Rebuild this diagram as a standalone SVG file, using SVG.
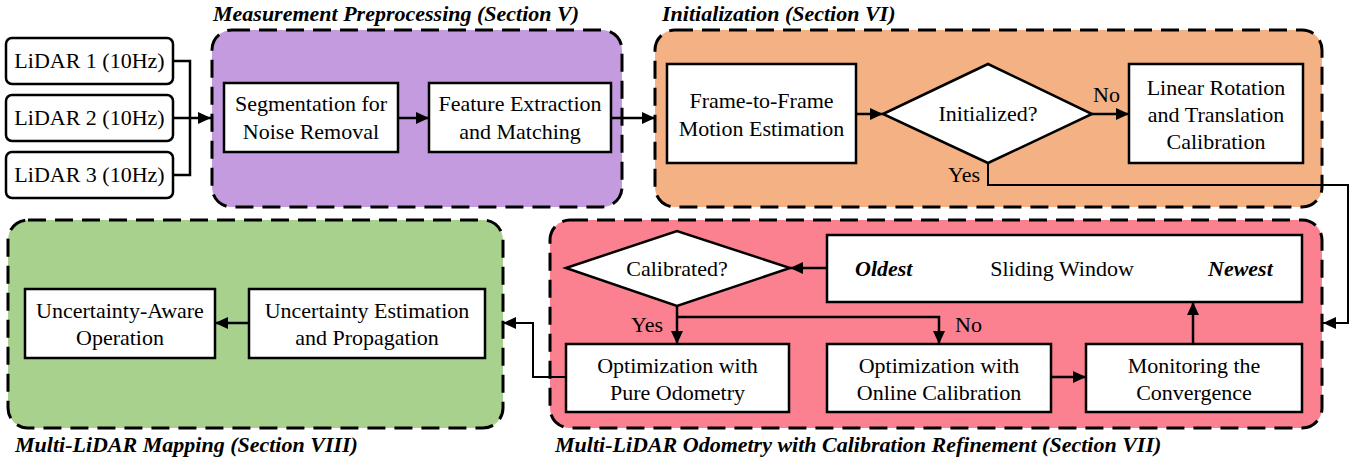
<svg xmlns="http://www.w3.org/2000/svg" width="1367" height="466" viewBox="0 0 1367 466">
<style>
text{font-size:22px;fill:#000}
.c{text-anchor:middle}
.t{font-weight:bold;font-style:italic}
.grp{stroke:#000;stroke-width:3;stroke-dasharray:18 9}
.box{fill:#fff;stroke:#000;stroke-width:2.5}
.ln{fill:none;stroke:#000;stroke-width:2.5}
.ln2{fill:none;stroke:#000;stroke-width:2}
</style>
<defs>
<marker id="ah" markerUnits="userSpaceOnUse" markerWidth="14" markerHeight="12" refX="13" refY="6" orient="auto">
<path d="M0,0 L13,6 L0,12 z" fill="#000"/>
</marker>
</defs>
<rect width="1367" height="466" fill="#fff"/>
<g font-family="Liberation Serif, Times New Roman, DejaVu Serif, serif">
<g id="group-preprocessing">
<rect class="grp" x="212" y="30" width="410" height="177" rx="20" fill="#C39BDE"/>
<text class="t" x="213" y="21">Measurement Preprocessing (Section V)</text>
</g>
<g id="group-initialization">
<rect class="grp" x="655" y="30" width="667" height="177" rx="20" fill="#F4B183"/>
<text class="t" x="662" y="21">Initialization (Section VI)</text>
</g>
<g id="group-odometry">
<rect class="grp" x="550" y="220" width="772" height="208" rx="20" fill="#FB8190"/>
<text class="t" x="555" y="452">Multi-LiDAR Odometry with Calibration Refinement (Section VII)</text>
</g>
<g id="group-mapping">
<rect class="grp" x="8" y="220" width="495" height="208" rx="20" fill="#A9D18E"/>
<text class="t" x="15" y="452">Multi-LiDAR Mapping (Section VIII)</text>
</g>

<g id="lidar1"><rect class="box" x="6" y="38" width="167" height="46" rx="6"/><text class="c" x="89.5" y="68">LiDAR 1 (10Hz)</text></g>
<g id="lidar2"><rect class="box" x="6" y="95" width="167" height="46" rx="6"/><text class="c" x="89.5" y="125">LiDAR 2 (10Hz)</text></g>
<g id="lidar3"><rect class="box" x="6" y="152" width="167" height="46" rx="6"/><text class="c" x="89.5" y="182">LiDAR 3 (10Hz)</text></g>

<g id="segmentation"><rect class="box" x="224" y="83" width="174" height="69"/><text class="c" x="311" y="111">Segmentation for</text><text class="c" x="311" y="139">Noise Removal</text></g>
<g id="feature"><rect class="box" x="429" y="83" width="182" height="69"/><text class="c" x="520" y="111">Feature Extraction</text><text class="c" x="520" y="139">and Matching</text></g>

<g id="frame"><rect class="box" x="667" y="64" width="189" height="99"/><text class="c" x="761.5" y="108">Frame-to-Frame</text><text class="c" x="761.5" y="136">Motion Estimation</text></g>
<g id="initialized"><polygon class="box" points="883,114 988,64 1092,114 988,163"/><text class="c" x="988" y="121">Initialized?</text></g>
<g id="linear"><rect class="box" x="1129" y="64" width="174" height="99"/><text class="c" x="1216" y="95">Linear Rotation</text><text class="c" x="1216" y="122">and Translation</text><text class="c" x="1216" y="149">Calibration</text></g>

<g id="calibrated"><polygon class="box" points="566,268 677,231 790,268 677,306"/><text class="c" x="677" y="276">Calibrated?</text></g>
<g id="sliding"><rect class="box" x="827" y="235" width="475" height="67"/><text class="t" x="855" y="276">Oldest</text><text class="c" x="1062" y="276">Sliding Window</text><text class="t" x="1208" y="276">Newest</text></g>
<g id="pure"><rect class="box" x="566" y="344" width="223" height="68"/><text class="c" x="677.5" y="373">Optimization with</text><text class="c" x="677.5" y="400">Pure Odometry</text></g>
<g id="online"><rect class="box" x="827" y="344" width="224" height="68"/><text class="c" x="939" y="373">Optimization with</text><text class="c" x="939" y="400">Online Calibration</text></g>
<g id="monitoring"><rect class="box" x="1086" y="344" width="216" height="68"/><text class="c" x="1194" y="373">Monitoring the</text><text class="c" x="1194" y="400">Convergence</text></g>

<g id="unc-aware"><rect class="box" x="25" y="289" width="190" height="69"/><text class="c" x="120" y="318">Uncertainty-Aware</text><text class="c" x="120" y="345">Operation</text></g>
<g id="unc-est"><rect class="box" x="249" y="289" width="236" height="69"/><text class="c" x="367" y="318">Uncertainty Estimation</text><text class="c" x="367" y="345">and Propagation</text></g>

<g id="connectors">
<path class="ln" d="M173 61 H190 V175 H173"/>
<path class="ln" d="M173 118 H211" marker-end="url(#ah)"/>
<path class="ln" d="M398 118 H429" marker-end="url(#ah)"/>
<path class="ln" d="M611 118 H655" marker-end="url(#ah)"/>
<path class="ln" d="M856 114 H883" marker-end="url(#ah)"/>
<path class="ln" d="M1092 114 H1129" marker-end="url(#ah)"/>
<path class="ln2" d="M988 163 V185 H1348 V323 H1323" marker-end="url(#ah)"/>
<path class="ln" d="M827 268 H790" marker-end="url(#ah)"/>
<path class="ln" d="M677 306 V344" marker-end="url(#ah)"/>
<path class="ln" d="M677 317 H939 V344" marker-end="url(#ah)"/>
<path class="ln" d="M1051 377 H1086" marker-end="url(#ah)"/>
<path class="ln" d="M1193 344 V302" marker-end="url(#ah)"/>
<path class="ln2" d="M566 377 H533 V323 H503" marker-end="url(#ah)"/>
<path class="ln" d="M249 323 H215" marker-end="url(#ah)"/>
<text x="948" y="182">Yes</text>
<text x="1093" y="102">No</text>
<text x="631" y="332">Yes</text>
<text x="955" y="332">No</text>
</g>
</g>
</svg>
